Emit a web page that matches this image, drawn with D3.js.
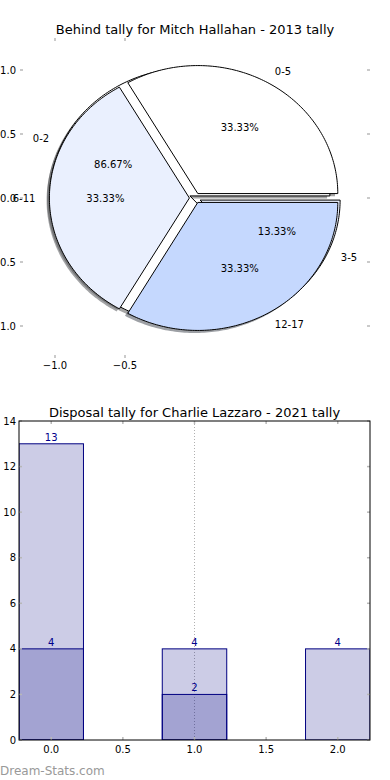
<!DOCTYPE html>
<html>
<head>
<meta charset="utf-8">
<script src="https://cdn.jsdelivr.net/npm/d3@7"></script>
<style>
    html, body { margin: 0; padding: 0; background: #fff; }
    svg { display: block; font-family: "DejaVu Sans", sans-serif; }
    .tick-mark { stroke: #b8b8b8; stroke-width: 1.5; }
    .tick-label { font-size: 10px; fill: #000; }
    .title { font-size: 13px; fill: #000; }
</style>
</head>
<body>
<svg id="chart" width="390" height="780"></svg>
<script>
(function () {
    "use strict";

    // ---- pie data (two pies drawn on the same axes) ----
    const pieTitle = "Behind tally for Mitch Hallahan - 2013 tally";
    const innerLabels = ["0-2", "3-5"];
    const innerValues = [13, 2];
    const outerLabels = ["0-5", "6-11", "12-17"];
    const outerValues = [5, 5, 5];
    const pieColors = ["#ffffff", "#eaf0fe", "#c5d8fe"];
    const pieXTicks = [-1.0, -0.5];
    const pieYTicks = [1.0, 0.5, 0.0, -0.5, -1.0];

    // ---- bar data ----
    const barTitle = "Disposal tally for Charlie Lazzaro - 2021 tally";
    const barPositions = [0, 1, 2];
    const barTotals = [13, 4, 4];
    const barSubset = [4, 2, 0];
    const barXTicks = [0.0, 0.5, 1.0, 1.5, 2.0];
    const barYTicks = [0, 2, 4, 6, 8, 10, 12, 14];
    const barGridX = [1.0];

    const svg = d3.select("#chart");
    const fmt1 = d3.format(".1f");

    /* ===================== pie ===================== */
    const px = d3.scaleLinear().domain([-1.25, 1.25]).range([20, 370]);
    const py = d3.scaleLinear().domain([-1.25, 1.25]).range([358, 38]);
    const EXPLODE = 0.04;

    svg.append("text").attr("class", "title")
        .attr("x", 195).attr("y", 34).attr("text-anchor", "middle")
        .text(pieTitle);

    function wedgePath(cx, cy, t1, t2) {
        const p = d3.path();
        p.moveTo(px(cx), py(cy));
        const n = Math.max(2, Math.ceil((t2 - t1) / (Math.PI / 180)));
        for (let i = 0; i <= n; i++) {
            const t = t1 + (t2 - t1) * i / n;
            p.lineTo(px(cx + Math.cos(t)), py(cy + Math.sin(t)));
        }
        p.closePath();
        return p.toString();
    }

    // angles counter-clockwise from east, like matplotlib
    function layout(values, labels) {
        const total = d3.sum(values);
        return d3.pie().sort(null).startAngle(0).endAngle(2 * Math.PI)(values)
            .map(function (a, i) {
                const mid = (a.startAngle + a.endAngle) / 2;
                return {
                    t1: a.startAngle, t2: a.endAngle, mid: mid,
                    cx: EXPLODE * Math.cos(mid), cy: EXPLODE * Math.sin(mid),
                    color: pieColors[i], label: labels[i],
                    pct: (100 * values[i] / total).toFixed(2) + "%"
                };
            });
    }

    const innerPie = layout(innerValues, innerLabels);
    const outerPie = layout(outerValues, outerLabels);
    const allWedges = innerPie.concat(outerPie);

    const pieG = svg.append("g");

    // shadows sit under every wedge
    pieG.selectAll(".shadow").data(allWedges).enter().append("path")
        .attr("class", "shadow")
        .attr("d", (d) => wedgePath(d.cx - 0.02, d.cy - 0.02, d.t1, d.t2))
        .attr("fill", function (d) {
            const c = d3.rgb(d.color);
            return d3.rgb(c.r * 0.3, c.g * 0.3, c.b * 0.3);
        })
        .attr("fill-opacity", 0.5)
        .attr("stroke", "none");

    pieG.selectAll(".wedge").data(allWedges).enter().append("path")
        .attr("class", "wedge")
        .attr("d", (d) => wedgePath(d.cx, d.cy, d.t1, d.t2))
        .attr("fill", (d) => d.color)
        .attr("stroke", "#000")
        .attr("stroke-width", 1)
        .attr("stroke-linejoin", "miter");

    // pie tick marks (no spines)
    pieXTicks.forEach(function (v) {
        [[38, 41], [358, 355]].forEach(function (yy) {
            svg.append("line").attr("class", "tick-mark")
                .attr("x1", px(v)).attr("x2", px(v))
                .attr("y1", yy[0]).attr("y2", yy[1]);
        });
        svg.append("text").attr("class", "tick-label")
            .attr("x", px(v)).attr("y", 369).attr("text-anchor", "middle")
            .text(fmt1(v));
    });
    pieYTicks.forEach(function (v) {
        [[20, 23], [370, 367]].forEach(function (xx) {
            svg.append("line").attr("class", "tick-mark")
                .attr("x1", xx[0]).attr("x2", xx[1])
                .attr("y1", py(v)).attr("y2", py(v));
        });
        svg.append("text").attr("class", "tick-label")
            .attr("x", 16).attr("y", py(v)).attr("dy", "0.35em")
            .attr("text-anchor", "end")
            .text(fmt1(v));
    });

    // wedge labels and percentages
    allWedges.forEach(function (d) {
        const lx = d.cx + 1.1 * Math.cos(d.mid);
        const ly = d.cy + 1.1 * Math.sin(d.mid);
        svg.append("text").attr("class", "tick-label")
            .attr("x", px(lx)).attr("y", py(ly)).attr("dy", "0.35em")
            .attr("text-anchor", lx > 0 ? "start" : "end")
            .text(d.label);
        svg.append("text").attr("class", "tick-label")
            .attr("x", px(d.cx + 0.6 * Math.cos(d.mid)))
            .attr("y", py(d.cy + 0.6 * Math.sin(d.mid)))
            .attr("dy", "0.35em")
            .attr("text-anchor", "middle")
            .text(d.pct);
    });

    /* ===================== bars ===================== */
    const L = 19, R = 370, T = 421, B = 740;
    const bx = d3.scaleLinear().domain([-0.225, 2.225]).range([L, R]);
    const by = d3.scaleLinear().domain([0, 14]).range([B, T]);
    const BAR_W = 0.45;

    svg.append("text").attr("class", "title")
        .attr("x", (L + R) / 2).attr("y", 417).attr("text-anchor", "middle")
        .text(barTitle);

    svg.append("clipPath").attr("id", "bar-clip")
        .append("rect").attr("x", L).attr("y", T)
        .attr("width", R - L).attr("height", B - T);

    const barG = svg.append("g").attr("clip-path", "url(#bar-clip)");

    barG.selectAll(".grid").data(barGridX).enter().append("line")
        .attr("x1", (d) => bx(d)).attr("x2", (d) => bx(d))
        .attr("y1", T).attr("y2", B)
        .attr("stroke", "#b0b0b0").attr("stroke-width", 1)
        .attr("stroke-dasharray", "1,2");

    function drawSeries(values, cls) {
        const data = barPositions.map((p, i) => ({ p: p, v: values[i] }))
            .filter((d) => d.v > 0);
        barG.selectAll("." + cls).data(data).enter().append("rect")
            .attr("class", cls)
            .attr("x", (d) => bx(d.p - BAR_W / 2))
            .attr("y", (d) => by(d.v))
            .attr("width", (d) => bx(d.p + BAR_W / 2) - bx(d.p - BAR_W / 2))
            .attr("height", (d) => by(0) - by(d.v))
            .attr("fill", "navy").attr("fill-opacity", 0.2)
            .attr("stroke", "navy").attr("stroke-width", 1);
        return data;
    }
    const totalsData = drawSeries(barTotals, "bar-total");
    const subsetData = drawSeries(barSubset, "bar-subset");

    totalsData.concat(subsetData).forEach(function (d) {
        svg.append("text").attr("class", "tick-label")
            .attr("x", bx(d.p)).attr("y", by(d.v) - 3)
            .attr("text-anchor", "middle")
            .style("fill", "#00008b")
            .text(d.v);
    });

    // ticks
    barXTicks.forEach(function (v) {
        [[B, B - 3], [T, T + 3]].forEach(function (yy) {
            svg.append("line").attr("class", "tick-mark")
                .attr("x1", bx(v)).attr("x2", bx(v))
                .attr("y1", yy[0]).attr("y2", yy[1]);
        });
        svg.append("text").attr("class", "tick-label")
            .attr("x", bx(v)).attr("y", 753).attr("text-anchor", "middle")
            .text(fmt1(v));
    });
    barYTicks.forEach(function (v) {
        [[L, L + 3], [R, R - 3]].forEach(function (xx) {
            svg.append("line").attr("class", "tick-mark")
                .attr("x1", xx[0]).attr("x2", xx[1])
                .attr("y1", by(v)).attr("y2", by(v));
        });
        svg.append("text").attr("class", "tick-label")
            .attr("x", 16).attr("y", by(v)).attr("dy", "0.35em")
            .attr("text-anchor", "end")
            .text(v);
    });

    // axes frame
    svg.append("rect")
        .attr("x", L).attr("y", T).attr("width", R - L).attr("height", B - T)
        .attr("fill", "none").attr("stroke", "#000").attr("stroke-width", 1);

    // watermark
    svg.append("text")
        .attr("x", 0).attr("y", 775)
        .style("font-size", "12px")
        .attr("fill", "#999999")
        .text("Dream-Stats.com");
})();
</script>
</body>
</html>
